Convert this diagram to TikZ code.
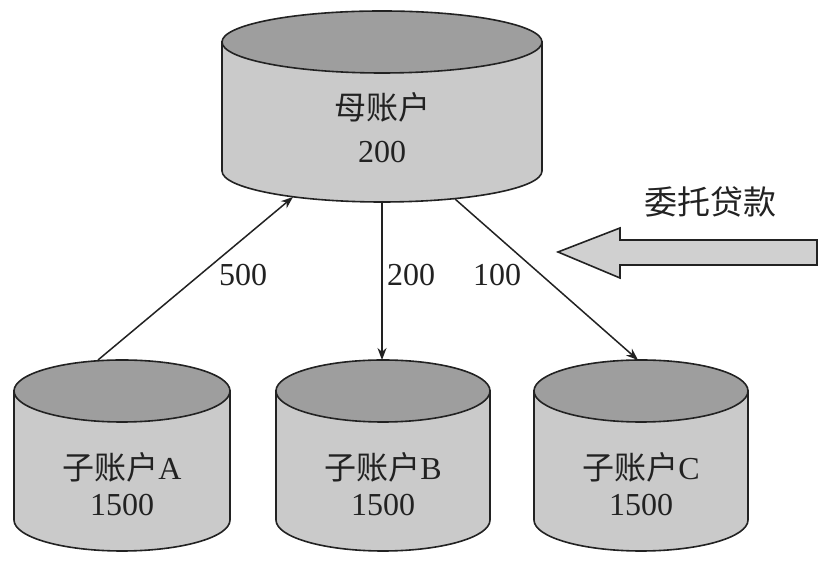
\documentclass[tikz,border=0pt]{standalone}
\usepackage{fontspec}
\setmainfont{Liberation Serif}
\newfontfamily\cjk{Noto Sans CJK SC}
\usetikzlibrary{arrows.meta}
\definecolor{capgray}{RGB}{158,158,158}
\definecolor{bodygray}{RGB}{202,202,202}
\definecolor{arrowgray}{RGB}{208,208,208}
\definecolor{inkc}{RGB}{34,34,34}
\tikzset{
  body/.style={fill=bodygray, draw=inkc, line width=1.6pt},
  capst/.style={fill=capgray, draw=inkc, line width=1.6pt},
  lbl/.style={font=\fontsize{32}{38}\selectfont, text=inkc, inner sep=0pt},
  conn/.style={draw=inkc, line width=1.5pt, -{Stealth[length=12pt,width=9pt]}},
  bigarrow/.style={fill=arrowgray, draw=inkc, line width=1.6pt, line join=miter}
}
\newcommand\drawcyl[5]{% #1 cx, #2 top y, #3 height, #4 rx, #5 ry
  \begin{scope}[shift={(#1,#2)}]
    \path[body] (-#4,0) -- (-#4,-#3) arc[start angle=180,end angle=360,x radius=#4,y radius=#5] -- (#4,0) -- cycle;
    \path[capst] (0,0) ellipse[x radius=#4,y radius=#5];
  \end{scope}}
\begin{document}
\begin{tikzpicture}[x=1pt,y=1pt]
\useasboundingbox[fill=white] (0,0) rectangle (825,561);
% cylinders
\drawcyl{382}{519}{129}{160}{31}
\drawcyl{122}{170}{129}{108}{31}
\drawcyl{383}{170}{129}{107}{31}
\drawcyl{641}{170}{129}{107}{31}
% texts in cylinders
\node[lbl] (m1) at (382,454) {\cjk 母账户};
\node[lbl] (m2) at (382,409) {200};
\node[lbl] (a1) at (122,94) {{\cjk 子账户}A};
\node[lbl] (a2) at (122,56) {1500};
\node[lbl] (b1) at (383,94) {{\cjk 子账户}B};
\node[lbl] (b2) at (383,56) {1500};
\node[lbl] (c1) at (641,94) {{\cjk 子账户}C};
\node[lbl] (c2) at (641,56) {1500};
% connector ends
\coordinate (Atop) at (98,201);
\coordinate (Mbl) at (293,364);
\coordinate (Mbm) at (382,360);
\coordinate (Btop) at (382,201);
\coordinate (Mbr) at (455,362);
\coordinate (Ctop) at (638,201);
\draw[conn] (Atop) -- (Mbl);
\draw[conn] (Mbm) -- (Btop);
\draw[conn] (Mbr) -- (Ctop);
\node[lbl] (l500) at (243,286) {500};
\node[lbl] (l200) at (411,286) {200};
\node[lbl] (l100) at (497,286) {100};
% big arrow
\path[bigarrow] (558,309) -- (620,333) -- (620,321) -- (817,321) -- (817,296) -- (620,296) -- (620,283) -- cycle;
\node[lbl, font=\fontsize{33}{38}\selectfont] (wt) at (710,359) {\cjk 委托贷款};
\end{tikzpicture}
\end{document}
